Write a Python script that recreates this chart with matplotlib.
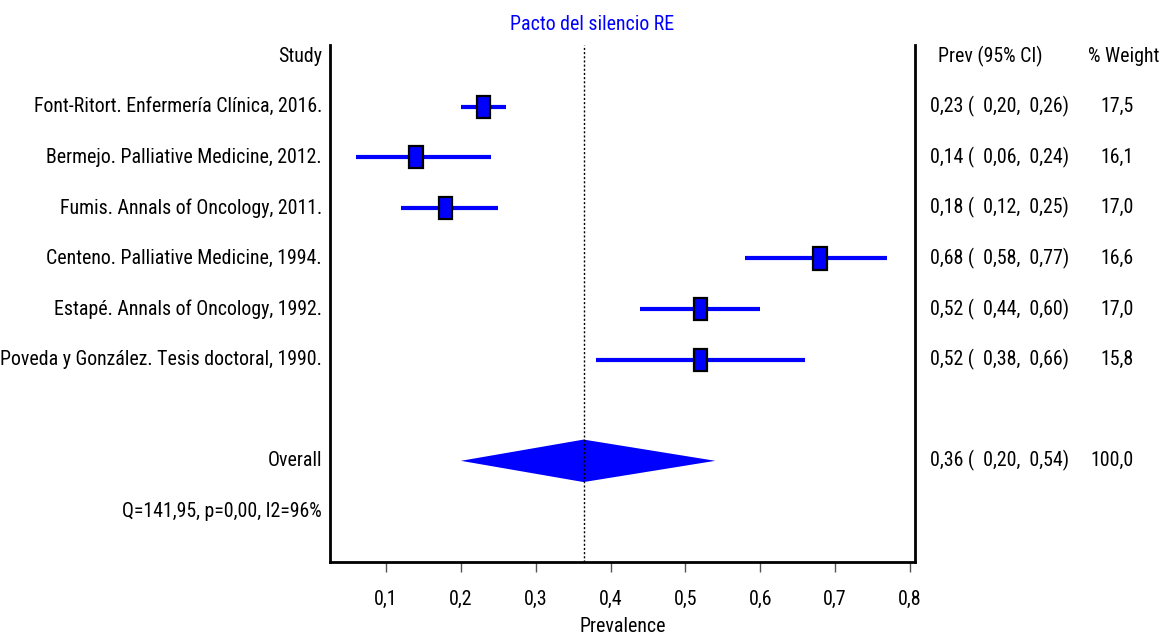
import matplotlib
matplotlib.use("Agg")
import matplotlib.pyplot as plt
from matplotlib.patches import Rectangle, Polygon
from matplotlib.transforms import blended_transform_factory

plt.rcParams['font.family'] = ['Roboto Condensed', 'Archivo Narrow', 'PT Sans Narrow',
                               'IBM Plex Sans Condensed', 'Liberation Sans', 'DejaVu Sans']

studies = [
    "Font-Ritort. Enfermería Clínica, 2016.",
    "Bermejo. Palliative Medicine, 2012.",
    "Fumis. Annals of Oncology, 2011.",
    "Centeno. Palliative Medicine, 1994.",
    "Estapé. Annals of Oncology, 1992.",
    "Poveda y González. Tesis doctoral, 1990.",
]
prev = [0.23, 0.14, 0.18, 0.68, 0.52, 0.52]
lower = [0.20, 0.06, 0.12, 0.58, 0.44, 0.38]
upper = [0.26, 0.24, 0.25, 0.77, 0.60, 0.66]
weights = [17.5, 16.1, 17.0, 16.6, 17.0, 15.8]
overall = 0.364
overall_lo = 0.20
overall_hi = 0.54
overall_label = "0,36 (  0,20,  0,54)"
stats_text = "Q=141,95, p=0,00, I2=96%"
xticks = [0.1, 0.2, 0.3, 0.4, 0.5, 0.6, 0.7, 0.8]
xticklabels = ["0,1", "0,2", "0,3", "0,4", "0,5", "0,6", "0,7", "0,8"]

def fmt(v):
    return f"{v:.2f}".replace(".", ",")

fig = plt.figure(figsize=(11.71, 6.34), dpi=100)
ax = fig.add_axes([330/1171, 72/634, 585/1171, 517/634])
ax.set_xlim(0.025, 0.807)
ax.set_ylim(10, -0.22)

blue = "#0000FF"
fs = 14.3
rows = list(range(1, len(studies) + 1))
for r, p, lo, hi in zip(rows, prev, lower, upper):
    ax.plot([lo, hi], [r, r], color=blue, lw=3, solid_capstyle='butt', zorder=2)
    w, h = 0.0175, 0.44
    ax.add_patch(Rectangle((p - w/2, r - h/2), w, h, facecolor=blue,
                           edgecolor='black', lw=1.6, zorder=3))

orow = 8
ax.add_patch(Polygon([[overall_lo, orow], [overall, orow - 0.42],
                      [overall_hi, orow], [overall, orow + 0.42]],
                     closed=True, facecolor=blue, edgecolor='none', zorder=2))
ax.axvline(overall, color='black', ls=(0, (1.5, 1.5)), lw=1, zorder=4)

for s in ['top']:
    ax.spines[s].set_visible(False)
for s in ['left', 'right', 'bottom']:
    ax.spines[s].set_linewidth(2)
ax.set_yticks([])
ax.set_xticks(xticks)
ax.set_xticklabels(xticklabels, fontsize=fs)
ax.tick_params(axis='x', length=7, width=1, color='#555555', pad=13)
ax.set_xlabel("Prevalence", fontsize=fs, labelpad=6)

tr = blended_transform_factory(ax.transAxes, ax.transData)
lx = -0.0137
ax.text(lx, 0, "Study", transform=tr, ha='right', va='center', fontsize=fs)
for r, s in zip(rows, studies):
    ax.text(lx, r, s, transform=tr, ha='right', va='center', fontsize=fs)
ax.text(lx, orow, "Overall", transform=tr, ha='right', va='center', fontsize=fs)
ax.text(lx, 9, stats_text, transform=tr, ha='right', va='center', fontsize=fs)

cx = (930 - 330) / 585
wx = (1100 - 330) / 585
ax.text((938 - 330) / 585, 0, "Prev (95% CI)", transform=tr, ha='left', va='center', fontsize=fs)
ax.text((1088 - 330) / 585, 0, "% Weight", transform=tr, ha='left', va='center', fontsize=fs)
for r, p, lo, hi, wt in zip(rows, prev, lower, upper, weights):
    ax.text(cx, r, f"{fmt(p)} (  {fmt(lo)},  {fmt(hi)})", transform=tr,
            ha='left', va='center', fontsize=fs)
    ax.text(wx, r, f"{wt:.1f}".replace(".", ","), transform=tr,
            ha='left', va='center', fontsize=fs)
ax.text(cx, orow, overall_label, transform=tr, ha='left', va='center', fontsize=fs)
ax.text((1090 - 330) / 585, orow, "100,0", transform=tr, ha='left', va='center', fontsize=fs)

fig.text(592/1171, 1 - 25/634, "Pacto del silencio RE", color=blue,
         ha='center', va='center', fontsize=fs)

fig.savefig("out.png", dpi=100)
